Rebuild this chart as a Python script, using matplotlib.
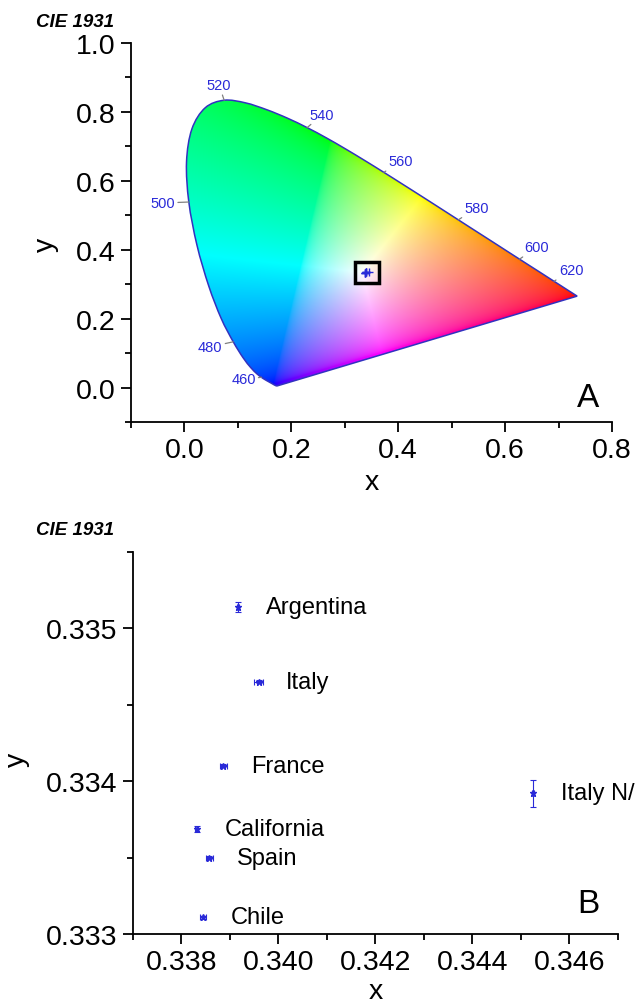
import matplotlib.pyplot as plt
import numpy as np
from matplotlib.patches import PathPatch, Rectangle
from matplotlib.path import Path
from matplotlib.ticker import MultipleLocator, FormatStrFormatter

plt.rcParams['font.family'] = ['Liberation Sans', 'DejaVu Sans']

# CIE 1931 2-degree spectral locus, 380-700 nm every 5 nm
locus_nm = list(range(380, 705, 5))
locus_x = [0.1741, 0.1740, 0.1738, 0.1736, 0.1733, 0.1730, 0.1726, 0.1721,
           0.1714, 0.1703, 0.1689, 0.1669, 0.1644, 0.1611, 0.1566, 0.1510,
           0.1440, 0.1355, 0.1241, 0.1096, 0.0913, 0.0687, 0.0454, 0.0235,
           0.0082, 0.0039, 0.0139, 0.0389, 0.0743, 0.1142, 0.1547, 0.1929,
           0.2296, 0.2658, 0.3016, 0.3373, 0.3731, 0.4087, 0.4441, 0.4788,
           0.5125, 0.5448, 0.5752, 0.6029, 0.6270, 0.6482, 0.6658, 0.6801,
           0.6915, 0.7006, 0.7079, 0.7140, 0.7190, 0.7230, 0.7260, 0.7283,
           0.7300, 0.7311, 0.7320, 0.7327, 0.7334, 0.7340, 0.7344, 0.7346,
           0.7347]
locus_y = [0.0050, 0.0050, 0.0049, 0.0049, 0.0048, 0.0048, 0.0048, 0.0048,
           0.0051, 0.0058, 0.0069, 0.0086, 0.0109, 0.0138, 0.0177, 0.0227,
           0.0297, 0.0399, 0.0578, 0.0868, 0.1327, 0.2007, 0.2950, 0.4127,
           0.5384, 0.6548, 0.7502, 0.8120, 0.8338, 0.8262, 0.8059, 0.7816,
           0.7543, 0.7243, 0.6923, 0.6589, 0.6245, 0.5896, 0.5547, 0.5202,
           0.4866, 0.4544, 0.4242, 0.3965, 0.3725, 0.3514, 0.3340, 0.3197,
           0.3083, 0.2993, 0.2920, 0.2859, 0.2809, 0.2770, 0.2740, 0.2717,
           0.2700, 0.2689, 0.2680, 0.2673, 0.2666, 0.2660, 0.2656, 0.2654,
           0.2653]

label_nm = [460, 480, 500, 520, 540, 560, 580, 600, 620]

# samples: chromaticity coordinates and standard deviations
samples = ['Argentina', 'Italy', 'France', 'California', 'Spain', 'Chile', 'Italy N/']
sample_x = [0.33916, 0.33959, 0.33886, 0.33831, 0.33857, 0.33845, 0.34525]
sample_y = [0.33514, 0.33465, 0.33410, 0.33369, 0.33350, 0.33311, 0.33392]
err_x = [0.00002, 0.00009, 0.00007, 0.00003, 0.00007, 0.00006, 0.00002]
err_y = [0.00003, 0.00001, 0.00001, 0.00002, 0.00001, 0.00001, 0.00009]

blue = '#2a2ad8'
line_blue = '#3232c0'

# label offsets for wavelength tags (pixels)
tag_offset = {460: (-18, -2), 480: (-23, -5), 500: (-26, -1), 520: (-5, 15),
              540: (15, 13), 560: (17, 11), 580: (18, 12), 600: (17, 12),
              620: (17, 11)}


def chroma_image(n=700):
    # colour field in CIE RGB primaries, normalised to full brightness
    xs = np.linspace(0, 0.75, n)
    ys = np.linspace(0.0005, 0.85, n)
    gx, gy = np.meshgrid(xs, ys)
    X = gx / gy
    Y = np.ones_like(gx)
    Z = (1 - gx - gy) / gy
    r = 2.3646 * X - 0.8965 * Y - 0.4681 * Z
    g = -0.5152 * X + 1.4264 * Y + 0.0888 * Z
    b = 0.0052 * X - 0.0144 * Y + 1.0092 * Z
    rgb = np.clip(np.dstack([r, g, b]), 0, None)
    rgb = rgb / np.maximum(rgb.max(axis=2, keepdims=True), 1e-9)
    rgb = np.where(rgb <= 0.0031308, 12.92 * rgb, 1.055 * rgb ** (1 / 2.4) - 0.055)
    return np.clip(rgb, 0, 1)


def locus_path(xs, ys):
    # smooth outline through the locus points (Catmull-Rom as cubic Bezier),
    # closed by the straight purple line
    p = np.column_stack([xs, ys])
    n = len(p)
    verts = [p[0]]
    codes = [Path.MOVETO]
    for i in range(n - 1):
        p0 = p[max(i - 1, 0)]
        p1 = p[i]
        p2 = p[i + 1]
        p3 = p[min(i + 2, n - 1)]
        verts += [p1 + (p2 - p0) / 6, p2 - (p3 - p1) / 6, p2]
        codes += [Path.CURVE4] * 3
    verts += [p[0], p[0]]
    codes += [Path.LINETO, Path.CLOSEPOLY]
    return Path(verts, codes)


def style_axes(ax):
    for s in ['top', 'right']:
        ax.spines[s].set_visible(False)
    for s in ['left', 'bottom']:
        ax.spines[s].set_linewidth(1.3)
    ax.tick_params(which='major', direction='out', length=7, width=1.3,
                   labelsize=20.5, pad=4)
    ax.tick_params(which='minor', direction='out', length=4, width=1.3)


fig = plt.figure(figsize=(6.35, 10.04), dpi=100)

# ---- panel A: chromaticity diagram
ax = fig.add_axes([0.2063, 0.5787, 0.7575, 0.3775])
style_axes(ax)

im = ax.imshow(chroma_image(), extent=(0, 0.75, 0.0005, 0.85), origin='lower',
               aspect='auto', interpolation='bilinear', zorder=1)
locus = PathPatch(locus_path(locus_x, locus_y), fill=False,
                  edgecolor=line_blue, lw=1.1, zorder=2)
ax.add_patch(locus)
im.set_clip_path(locus)
ax.set_xlim(-0.1, 0.8)
ax.set_ylim(-0.1, 1.0)

for nm in label_nm:
    i = locus_nm.index(nm)
    dx, dy = tag_offset[nm]
    ax.annotate(str(nm), xy=(locus_x[i], locus_y[i]), xytext=(dx * 0.72, dy * 0.72),
                textcoords='offset points', ha='center', va='center',
                fontsize=10.5, color=blue, zorder=4,
                arrowprops=dict(arrowstyle='-', color='#808080', lw=0.9,
                                shrinkA=0, shrinkB=0))

ax.plot(sample_x, sample_y, '+', color=blue, ms=6, mew=1.0, zorder=3)

# zoom box around the samples (fixed size on screen)
px_per_x = ax.bbox.width / 0.9
px_per_y = ax.bbox.height / 1.1
cx = (min(sample_x) + max(sample_x)) / 2
cy = (min(sample_y) + max(sample_y)) / 2
bw, bh = 24 / px_per_x, 21 / px_per_y
ax.add_patch(Rectangle((cx - bw / 2, cy - bh / 2), bw, bh, fill=False,
                       edgecolor='black', lw=2.5, zorder=5))

ax.xaxis.set_major_locator(MultipleLocator(0.2))
ax.xaxis.set_minor_locator(MultipleLocator(0.1))
ax.yaxis.set_major_locator(MultipleLocator(0.2))
ax.yaxis.set_minor_locator(MultipleLocator(0.1))
ax.xaxis.set_major_formatter(FormatStrFormatter('%.1f'))
ax.yaxis.set_major_formatter(FormatStrFormatter('%.1f'))
ax.set_xlabel('x', fontsize=20.5)
ax.set_ylabel('y', fontsize=20.5)
ax.yaxis.set_label_coords(-0.15, 0.47)
ax.text(0.95, 0.042, 'A', transform=ax.transAxes, fontsize=24,
        ha='center', va='baseline')

# ---- panel B: zoom on the samples
bx = fig.add_axes([0.2094, 0.0687, 0.7638, 0.3805])
style_axes(bx)
bx.errorbar(sample_x, sample_y, xerr=err_x, yerr=err_y, fmt='*', ms=4.5,
            color=blue, ecolor=blue, elinewidth=0.8, capsize=2.2, capthick=0.8)
for name, x, y in zip(samples, sample_x, sample_y):
    bx.annotate(name, xy=(x, y), xytext=(20, 0), textcoords='offset points',
                ha='left', va='center', fontsize=17, annotation_clip=False)
bx.set_xlim(0.337, 0.347)
bx.set_ylim(0.333, 0.3355)
bx.xaxis.set_major_locator(MultipleLocator(0.002))
bx.xaxis.set_minor_locator(MultipleLocator(0.001))
bx.yaxis.set_major_locator(MultipleLocator(0.001))
bx.yaxis.set_minor_locator(MultipleLocator(0.0005))
bx.xaxis.set_major_formatter(FormatStrFormatter('%.3f'))
bx.yaxis.set_major_formatter(FormatStrFormatter('%.3f'))
bx.set_xlabel('x', fontsize=20.5, labelpad=2)
bx.set_ylabel('y', fontsize=20.5)
bx.yaxis.set_label_coords(-0.212, 0.458)
bx.text(0.938, 0.0576, 'B', transform=bx.transAxes, fontsize=24,
        ha='center', va='baseline')

fig.text(36 / 635, 1 - 27 / 1004, 'CIE 1931', fontsize=13.5, fontweight='bold',
         fontstyle='italic', ha='left', va='baseline')
fig.text(36 / 635, 1 - 535 / 1004, 'CIE 1931', fontsize=13.5, fontweight='bold',
         fontstyle='italic', ha='left', va='baseline')

fig.savefig('out.png', dpi=100)
